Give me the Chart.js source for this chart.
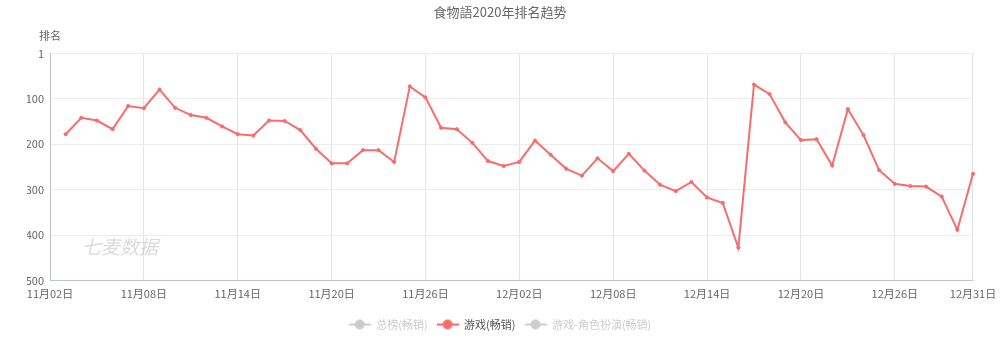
<!DOCTYPE html>
<html>
<head>
<meta charset="utf-8">
<script src="https://cdn.jsdelivr.net/npm/chart.js@4.4.1/dist/chart.umd.min.js"></script>
<style>
html,body{margin:0;padding:0;background:#fff;}
#wrap{width:1000px;height:352px;position:relative;}
</style>
</head>
<body>
<div id="wrap"><canvas id="c" width="1000" height="352"></canvas></div>
<script>
const chartTitle = '食物語2020年排名趋势';
const yAxisName = '排名';
const watermark = '七麦数据';
const dates = [
 '11月02日','11月03日','11月04日','11月05日','11月06日','11月07日','11月08日','11月09日','11月10日','11月11日',
 '11月12日','11月13日','11月14日','11月15日','11月16日','11月17日','11月18日','11月19日','11月20日','11月21日',
 '11月22日','11月23日','11月24日','11月25日','11月26日','11月27日','11月28日','11月29日','11月30日','12月01日',
 '12月02日','12月03日','12月04日','12月05日','12月06日','12月07日','12月08日','12月09日','12月10日','12月11日',
 '12月12日','12月13日','12月14日','12月15日','12月16日','12月17日','12月18日','12月19日','12月20日','12月21日',
 '12月22日','12月23日','12月24日','12月25日','12月26日','12月27日','12月28日','12月29日','12月30日','12月31日'
];
const xTickLabels = ['11月02日','11月08日','11月14日','11月20日','11月26日','12月02日','12月08日','12月14日','12月20日','12月26日','12月31日'];
const yTicks = [1, 100, 200, 300, 400, 500];
// 游戏(畅销) rank, 11月02日 has no value
const gameRank = [
 null,
 178,142,148,167,116,121,80,120,136,142,161,178,181,148,149,169,210,242,242,213,213,239,73,97,164,167,197,237,
 248,239,192,223,254,269,231,259,221,258,289,303,283,317,329,427,69,90,152,191,189,247,123,180,257,287,292,293,315,388,265
];
const seriesNames = ['总榜(畅销)', '游戏(畅销)', '游戏-角色扮演(畅销)'];
const seriesShown = [false, true, false];

const RED = '#f76d6d';
const FONT = '"Noto Sans CJK SC", "Noto Sans", sans-serif';
function markerCanvas(color){
  const cv = document.createElement('canvas');
  cv.width = 22; cv.height = 14;
  const c = cv.getContext('2d');
  c.strokeStyle = color; c.lineWidth = 2;
  c.beginPath(); c.moveTo(0,7); c.lineTo(22,7); c.stroke();
  c.fillStyle = color;
  c.beginPath(); c.arc(11,7,5,0,Math.PI*2); c.fill();
  return cv;
}

const extras = {
  id: 'extras',
  beforeDatasetsDraw(chart){
    const ctx = chart.ctx, a = chart.chartArea;
    ctx.save();
    ctx.strokeStyle = '#e2e2e2'; ctx.lineWidth = 1;
    const x = Math.round(a.right) - 0.5;
    ctx.beginPath(); ctx.moveTo(x, a.top); ctx.lineTo(x, a.bottom); ctx.stroke();
    ctx.restore();
  },
  afterDraw(chart){
    const ctx = chart.ctx;
    ctx.save();
    ctx.fillStyle = '#666';
    ctx.font = '11px ' + FONT;
    ctx.textAlign = 'left'; ctx.textBaseline = 'middle';
    ctx.fillText(yAxisName, 39, 36);
    ctx.fillStyle = 'rgba(170,170,170,0.42)';
    ctx.font = 'italic 19px ' + FONT;
    ctx.fillText(watermark, 82, 247);
    ctx.restore();
  }
};

new Chart(document.getElementById('c'), {
  type: 'line',
  data: {
    labels: dates,
    datasets: seriesNames.map((n, i) => ({
      label: n,
      data: i === 1 ? gameRank : [],
      hidden: !seriesShown[i],
      borderColor: RED,
      backgroundColor: RED,
      borderWidth: 2,
      pointRadius: 1.6,
      pointBorderWidth: 1,
      pointHoverRadius: 3,
      tension: 0,
      spanGaps: false
    }))
  },
  plugins: [extras],
  options: {
    responsive: false,
    animation: false,
    layout: { padding: { left: 27, right: 27, top: 0, bottom: 12 } },
    plugins: {
      title: {
        display: true, text: chartTitle, color: '#666',
        font: { size: 13, family: FONT, weight: 'normal' },
        padding: { top: 4, bottom: 34 }
      },
      legend: {
        position: 'bottom',
        onClick: null,
        title: { display: true, text: ' ', font: { size: 2, lineHeight: 1 }, padding: { top: 3, bottom: 3 } },
        labels: {
          usePointStyle: true,
          pointStyleWidth: 22,
          padding: 9,
          font: { size: 11, family: FONT },
          generateLabels(chart){
            return seriesNames.map((n, i) => ({
              text: n,
              fontColor: seriesShown[i] ? '#555' : '#ccc',
              pointStyle: markerCanvas(seriesShown[i] ? RED : '#ccc'),
              hidden: false,
              lineWidth: 0,
              strokeStyle: 'transparent',
              fillStyle: 'transparent',
              datasetIndex: i
            }));
          }
        }
      },
      tooltip: { enabled: false }
    },
    scales: {
      x: {
        offset: false,
        border: { color: '#c0c4cc', width: 1 },
        grid: {
          drawTicks: true, tickLength: 4,
          color: ctx => (ctx.tick && xTickLabels.includes(dates[ctx.tick.value]) && ctx.index !== 0 && ctx.tick.value !== dates.length - 1) ? '#e4e4e4' : 'rgba(0,0,0,0)',
          tickColor: 'rgba(0,0,0,0)'
        },
        ticks: {
          autoSkip: false, maxRotation: 0, color: '#666',
          font: { size: 11, family: FONT },
          padding: 2,
          callback(v, i){ return xTickLabels.includes(dates[i]) ? dates[i] : ''; }
        }
      },
      y: {
        reverse: true, min: 1, max: 500,
        afterBuildTicks(s){ s.ticks = yTicks.map(v => ({ value: v })); },
        afterFit(s){ s.width = 23; },
        border: { color: '#c0c4cc', width: 1 },
        grid: { color: '#ececec', drawTicks: false },
        ticks: {
          color: '#666', padding: 6,
          font: { size: 11, family: FONT }
        }
      }
    }
  }
});
</script>
</body>
</html>
